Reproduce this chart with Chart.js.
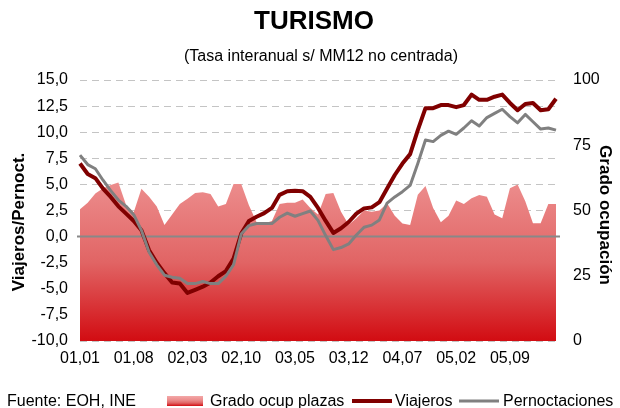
<!DOCTYPE html>
<html>
<head>
<meta charset="utf-8">
<script src="https://cdn.jsdelivr.net/npm/chart.js@4"></script>
<style>
  html, body { margin: 0; padding: 0; background: #fff; }
  canvas { display: block; }
</style>
</head>
<body>
<canvas id="chart" width="620" height="408"></canvas>
<script>
const FONT = "'Liberation Sans', Arial, sans-serif";

// meses (aa,mm)
const months = [
  '01,01','01,02','01,03','01,04','01,05','01,06','01,07','01,08','01,09','01,10','01,11','01,12',
  '02,01','02,02','02,03','02,04','02,05','02,06','02,07','02,08','02,09','02,10','02,11','02,12',
  '03,01','03,02','03,03','03,04','03,05','03,06','03,07','03,08','03,09','03,10','03,11','03,12',
  '04,01','04,02','04,03','04,04','04,05','04,06','04,07','04,08','04,09','04,10','04,11','04,12',
  '05,01','05,02','05,03','05,04','05,05','05,06','05,07','05,08','05,09','05,10','05,11','05,12',
  '06,01','06,02','06,03'
];
const tickLabels = ['01,01','01,08','02,03','02,10','03,05','03,12','04,07','05,02','05,09'];

// Grado ocupacion plazas (%), eje derecho
const grado = [
  50.5, 53.0, 56.5, 58.5, 59.8, 60.7, 52.1, 49.3, 58.3, 55.3, 51.5, 44.4,
  48.5, 52.5, 54.5, 56.7, 57.0, 56.3, 51.5, 52.5, 60.2, 60.2, 52.0, 45.5,
  45.0, 46.0, 52.5, 53.0, 53.0, 54.2, 51.0, 48.5, 56.3, 56.7, 49.5, 44.5,
  47.0, 50.0, 49.5, 50.0, 52.8, 48.0, 45.0, 44.4, 56.0, 59.4, 51.0, 45.5,
  48.0, 53.8, 52.5, 54.7, 55.9, 55.3, 48.5, 47.0, 58.5, 60.0, 53.5, 45.1,
  45.1, 52.5, 52.5
];

// Viajeros, tasa interanual
const viajeros = [
  7.0, 6.0, 5.6, 4.6, 3.8, 2.9, 2.2, 1.5, 0.6, -1.3, -2.5, -3.5,
  -4.4, -4.5, -5.4, -5.1, -4.8, -4.4, -3.8, -3.3, -2.1, 0.3, 1.5, 1.9,
  2.25, 2.75, 4.0, 4.35, 4.4, 4.35, 3.8, 2.75, 1.5, 0.35, 0.8, 1.4,
  2.2, 2.7, 2.8, 3.3, 4.6, 5.9, 7.0, 7.9, 10.2, 12.3, 12.3, 12.6,
  12.6, 12.4, 12.6, 13.6, 13.1, 13.1, 13.4, 13.6, 12.8, 12.1, 12.7, 12.8,
  12.1, 12.2, 13.2
];

// Pernoctaciones, tasa interanual
const pernoct = [
  7.8, 6.9, 6.5, 5.4, 4.4, 3.5, 2.9, 2.1, 0.6, -1.5, -2.7, -3.7,
  -3.9, -4.0, -4.5, -4.5, -4.3, -4.5, -4.5, -3.8, -2.7, 0.25, 1.05, 1.25,
  1.25, 1.25, 1.85, 2.25, 1.95, 2.2, 2.45, 1.55, 0.1, -1.25, -1.05, -0.7,
  0.15, 0.9, 1.1, 1.6, 3.2, 3.8, 4.3, 4.9, 7.0, 9.25, 9.1, 9.7,
  10.1, 9.8, 10.4, 11.1, 10.6, 11.4, 11.8, 12.2, 11.5, 10.9, 11.7, 11.0,
  10.3, 10.4, 10.2
];

const RED = '#800000';
const GREY = '#808080';

function areaGradient(ctx, top, bottom) {
  const g = ctx.createLinearGradient(0, top, 0, bottom);
  g.addColorStop(0, '#F3A8A8');
  g.addColorStop(0.4, '#EC8C8C');
  g.addColorStop(0.7, '#E16464');
  g.addColorStop(1, '#D20C12');
  return g;
}

function rotatedText(ctx, text, x, y, angle) {
  ctx.save();
  ctx.translate(x, y);
  ctx.rotate(angle);
  ctx.fillText(text, 0, 0);
  ctx.restore();
}

const decor = {
  id: 'decor',
  afterDatasetDraw(chart, args) {
    if (args.index !== 0) return;
    const { ctx, chartArea } = chart;
    const y = chart.scales.y.getPixelForValue(0);
    ctx.save();
    ctx.strokeStyle = '#888888';
    ctx.lineWidth = 2;
    ctx.beginPath();
    ctx.moveTo(chartArea.left - 3, y);
    ctx.lineTo(chartArea.right + 4, y);
    ctx.stroke();
    ctx.restore();
  },
  afterDraw(chart) {
    const ctx = chart.ctx;
    ctx.save();
    ctx.fillStyle = '#000';
    ctx.textAlign = 'center';
    ctx.textBaseline = 'middle';
    ctx.font = 'bold 26px ' + FONT;
    ctx.fillText('TURISMO', 314, 22);
    ctx.font = '16px ' + FONT;
    ctx.fillText('(Tasa interanual s/ MM12 no centrada)', 321, 57);

    // titulos de ejes
    ctx.font = 'bold 17px ' + FONT;
    rotatedText(ctx, 'Viajeros/Pernoct.', 19, 222, -Math.PI / 2);
    rotatedText(ctx, 'Grado ocupación', 605, 215, Math.PI / 2);

    // pie y leyenda
    const ds = chart.data.datasets;
    const ly = 406;
    ctx.font = '16px ' + FONT;
    ctx.textAlign = 'left';
    ctx.textBaseline = 'alphabetic';
    ctx.fillText('Fuente: EOH, INE', 7, ly);
    ctx.fillStyle = areaGradient(ctx, 396, 406);
    ctx.fillRect(167, 396, 36, 10);
    ctx.fillStyle = '#000';
    ctx.fillText(ds[0].label, 210, ly);
    [[ds[1], RED, 4, 352, 395], [ds[2], GREY, 3, 459, 503]].forEach(([d, col, w, x0, tx]) => {
      ctx.strokeStyle = col;
      ctx.lineWidth = w;
      ctx.beginPath();
      ctx.moveTo(x0, 401);
      ctx.lineTo(x0 + 40, 401);
      ctx.stroke();
      ctx.fillText(d.label, tx, ly);
    });
    ctx.restore();
  }
};

const tickFont = { family: FONT, size: 16 };

new Chart(document.getElementById('chart'), {
  type: 'line',
  data: {
    labels: months,
    datasets: [
      {
        label: 'Grado ocup plazas',
        data: grado,
        yAxisID: 'y1',
        order: 3,
        fill: 'start',
        borderWidth: 0,
        pointRadius: 0,
        tension: 0,
        backgroundColor: (c) => {
          const a = c.chart.chartArea;
          if (!a) return '#E57373';
          return areaGradient(c.chart.ctx, a.top, a.bottom);
        }
      },
      {
        label: 'Viajeros',
        data: viajeros,
        yAxisID: 'y',
        order: 2,
        borderColor: RED,
        borderWidth: 4,
        pointRadius: 0,
        tension: 0,
        borderJoinStyle: 'round',
        fill: false
      },
      {
        label: 'Pernoctaciones',
        data: pernoct,
        yAxisID: 'y',
        order: 1,
        borderColor: GREY,
        borderWidth: 3,
        pointRadius: 0,
        tension: 0,
        borderJoinStyle: 'round',
        fill: false
      }
    ]
  },
  options: {
    responsive: false,
    animation: false,
    devicePixelRatio: 1,
    layout: { padding: { top: 80, bottom: 0, left: 0, right: 0 } },
    plugins: {
      legend: { display: false },
      title: { display: false },
      tooltip: { enabled: false }
    },
    scales: {
      x: {
        grid: { display: false, drawTicks: false },
        border: { display: false },
        ticks: {
          autoSkip: false,
          maxRotation: 0,
          padding: 8,
          color: '#000',
          font: tickFont,
          callback: (v, i) => tickLabels.includes(months[i]) ? months[i] : ''
        },
        afterFit: s => { s.height = 67; }
      },
      y: {
        position: 'left',
        min: -10,
        max: 15,
        grid: { color: '#C4C4C4', lineWidth: 1, drawTicks: false },
        border: { display: false, dash: [7, 5] },
        ticks: {
          stepSize: 2.5,
          padding: 12,
          color: '#000',
          font: tickFont,
          callback: v => v.toFixed(1).replace('.', ',')
        },
        afterFit: s => { s.width = 80; }
      },
      y1: {
        position: 'right',
        min: 0,
        max: 100,
        grid: { display: false, drawTicks: false },
        border: { display: false },
        ticks: { stepSize: 25, padding: 17, color: '#000', font: tickFont },
        afterFit: s => { s.width = 64; }
      }
    }
  },
  plugins: [decor]
});
</script>
</body>
</html>
